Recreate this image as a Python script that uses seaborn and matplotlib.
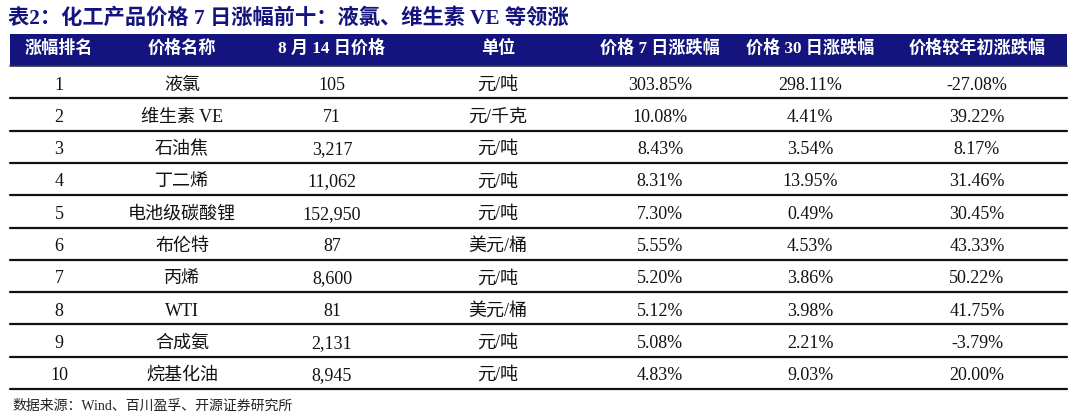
import matplotlib
matplotlib.use("Agg")
import matplotlib.pyplot as plt
import seaborn as sns

# Data
headers = ["涨幅排名", "价格名称", "8 月 14 日价格", "单位",
           "价格 7 日涨跌幅", "价格 30 日涨跌幅", "价格较年初涨跌幅"]
ranks = ["1", "2", "3", "4", "5", "6", "7", "8", "9", "10"]
names = ["液氯", "维生素 VE", "石油焦", "丁二烯", "电池级碳酸锂",
         "布伦特", "丙烯", "WTI", "合成氨", "烷基化油"]
prices = ["105", "71", "3,217", "11,062", "152,950", "87", "8,600", "81", "2,131", "8,945"]
units = ["元/吨", "元/千克", "元/吨", "元/吨", "元/吨",
         "美元/桶", "元/吨", "美元/桶", "元/吨", "元/吨"]
chg_7d = ["303.85%", "10.08%", "8.43%", "8.31%", "7.30%",
          "5.55%", "5.20%", "5.12%", "5.08%", "4.83%"]
chg_30d = ["298.11%", "4.41%", "3.54%", "13.95%", "0.49%",
           "4.53%", "3.86%", "3.98%", "2.21%", "9.03%"]
chg_ytd = ["-27.08%", "39.22%", "8.17%", "31.46%", "30.45%",
           "43.33%", "50.22%", "41.75%", "-3.79%", "20.00%"]
title = "表2：化工产品价格 7 日涨幅前十：液氯、维生素 VE 等领涨"
source = "数据来源：Wind、百川盈孚、开源证券研究所"

sns.set_theme(style="white")
fonts = ["Liberation Serif", "Noto Sans CJK SC", "DejaVu Sans"]
plt.rcParams["font.family"] = fonts

navy = "#14147f"
col_x = [59, 182, 332, 498, 660, 810, 977]
left, right = 10, 1067
head_top, head_bot = 34, 66
row_h = 32.3

fig = plt.figure(figsize=(10.8, 4.18), dpi=100)
ax = fig.add_axes([0, 0, 1, 1])
ax.set_xlim(0, 1080)
ax.set_ylim(418, 0)
ax.axis("off")

# title
ax.text(8, 19, title, color=navy, fontsize=15.3, fontweight="bold",
        va="center", ha="left")

# header band
ax.fill_between([left, right], head_top, head_bot, color=navy, linewidth=0)
for x, h in zip(col_x, headers):
    ax.text(x, 48, h, color="white", fontsize=12.3, fontweight="bold",
            ha="center", va="center")
ax.plot([left, right], [head_bot, head_bot], color="#333333", lw=1.2)

# rows
columns = [ranks, names, prices, units, chg_7d, chg_30d, chg_ytd]
for i in range(len(ranks)):
    top = head_bot + row_h * i
    for x, col in zip(col_x, columns):
        ax.text(x, top + 23.5, col[i], color="#111111", fontsize=13,
                ha="center", va="baseline")
    ax.plot([left, right], [top + row_h, top + row_h], color="#111111", lw=1.6)

ax.text(12, 406, source, color="#222222", fontsize=10, ha="left", va="center")

fig.savefig("out.png", dpi=100)
plt.close(fig)
